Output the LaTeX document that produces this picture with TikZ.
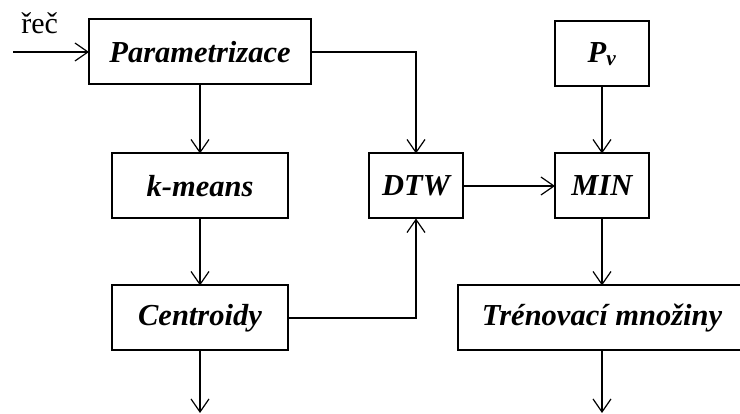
\documentclass[tikz,border=0pt]{standalone}
\usepackage{fontspec}
\setmainfont{Liberation Serif}
\usetikzlibrary{positioning, arrows.meta}
\tikzset{
  blok/.style={
    rectangle, draw=black, line width=2pt,
    minimum height=65pt, outer sep=0pt,
    align=center, font=\fontsize{30.5}{36}\selectfont\bfseries\itshape
  },
  sip/.style={
    -{Straight Barb[length=13pt, width=18pt]}, line width=1.2pt
  },
  lbl/.style={
    font=\fontsize{30}{36}\selectfont, inner sep=0pt
  }
}

\begin{document}
\begin{tikzpicture}[x=1pt, y=1pt]
\useasboundingbox (0,0) rectangle (740,-414);

%% ── Nodes ────────────────────────────────────────────────────────

% Parametrizace
\node[blok, minimum width=222pt] (param) at (200,-52) {Parametrizace};

% k-means
\node[blok, minimum width=176pt, below=69pt of param] (kmeans) {k-means};

% Centroidy
\node[blok, minimum width=176pt, below=67pt of kmeans] (centr) {Centroidy};

% DTW
\node[blok, minimum width=94pt, right=81pt of kmeans] (dtw) {DTW};

% MIN
\node[blok, minimum width=94pt, right=92pt of dtw] (mini) {MIN};

% P_v
\node[blok, minimum width=94pt, above=67pt of mini] (pv) {P\textsubscript{v}};

% Trenovaci mnoziny
\node[blok, minimum width=288pt, below=67pt of mini] (tren) {Trénovací množiny};

% free ends
\coordinate (vstup) at (13,-52);
\coordinate (vystupA) at (200,-413);
\coordinate (vystupB) at (602,-413);

%% ── Arrows ───────────────────────────────────────────────────────

% input
\draw[sip] (vstup) -- (param)
  node[lbl, pos=0.35, above=18pt] {řeč};

% left column
\draw[sip] (param) -- (kmeans);
\draw[sip] (kmeans) -- (centr);
\draw[sip] (centr) -- (vystupA);

% into DTW
\draw[sip] (param.east) -| (dtw.north);
\draw[sip] (centr.east) -| (dtw.south);

% right column
\draw[sip] (dtw) -- (mini);
\draw[sip] (pv) -- (mini);
\draw[sip] (mini) -- (tren);
\draw[sip] (tren) -- (vystupB);

\end{tikzpicture}
\end{document}
